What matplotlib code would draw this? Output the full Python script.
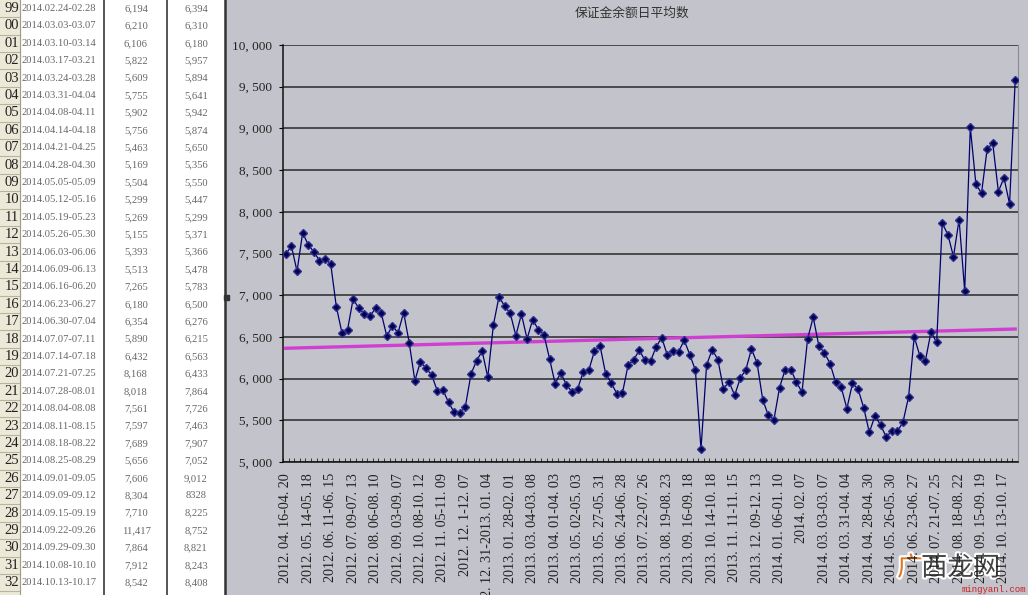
import numpy as np
import matplotlib
matplotlib.use("Agg")
import matplotlib.pyplot as plt
import matplotlib.patheffects as pe
from matplotlib.patches import Rectangle

# weekly values, 2012.04.16 .. 2014.02.21 (before the table starts)
early_values = [
    7496, 7588, 7288, 7748, 7604, 7520, 7416, 7436, 7376, 6864,
    6552, 6584, 6956, 6844, 6776, 6748, 6844, 6788, 6508, 6636,
    6548, 6792, 6428, 5976, 6204, 6124, 6044, 5852, 5864, 5716,
    5596, 5588, 5664, 6052, 6216, 6328, 6016, 6644, 6984, 6868,
    6784, 6516, 6772, 6476, 6708, 6588, 6528, 6240, 5940, 6068,
    5928, 5840, 5876, 6076, 6100, 6328, 6396, 6060, 5948, 5820,
    5828, 6160, 6224, 6340, 6220, 6208, 6380, 6492, 6280, 6328,
    6320, 6460, 6288, 6100, 5156, 6164, 6348, 6228, 5880, 5960,
    5800, 6004, 6108, 6356, 6184, 5748, 5560, 5508, 5892, 6108,
    6108, 5960, 5836, 6476, 6736,
]
# two last weeks on the chart, after the visible table rows
late_values = [8094, 9580]

# spreadsheet rows visible at the left
row_nums = ["99", "00", "01", "02", "03", "04", "05", "06", "07", "08", "09", "10",
            "11", "12", "13", "14", "15", "16", "17", "18", "19", "20", "21", "22",
            "23", "24", "25", "26", "27", "28", "29", "30", "31", "32"]
row_dates = [
    "2014.02.24-02.28", "2014.03.03-03.07", "2014.03.10-03.14", "2014.03.17-03.21",
    "2014.03.24-03.28", "2014.03.31-04.04", "2014.04.08-04.11", "2014.04.14-04.18",
    "2014.04.21-04.25", "2014.04.28-04.30", "2014.05.05-05.09", "2014.05.12-05.16",
    "2014.05.19-05.23", "2014.05.26-05.30", "2014.06.03-06.06", "2014.06.09-06.13",
    "2014.06.16-06.20", "2014.06.23-06.27", "2014.06.30-07.04", "2014.07.07-07.11",
    "2014.07.14-07.18", "2014.07.21-07.25", "2014.07.28-08.01", "2014.08.04-08.08",
    "2014.08.11-08.15", "2014.08.18-08.22", "2014.08.25-08.29", "2014.09.01-09.05",
    "2014.09.09-09.12", "2014.09.15-09.19", "2014.09.22-09.26", "2014.09.29-09.30",
    "2014.10.08-10.10", "2014.10.13-10.17"]
col1 = ["6,194", "6,210", "6,106", "5,822", "5,609", "5,755", "5,902", "5,756",
        "5,463", "5,169", "5,504", "5,299", "5,269", "5,155", "5,393", "5,513",
        "7,265", "6,180", "6,354", "5,890", "6,432", "8,168", "8,018", "7,561",
        "7,597", "7,689", "5,656", "7,606", "8,304", "7,710", "11,417", "7,864",
        "7,912", "8,542"]
col2 = ["6,394", "6,310", "6,180", "5,957", "5,894", "5,641", "5,942", "5,874",
        "5,650", "5,356", "5,550", "5,447", "5,299", "5,371", "5,366", "5,478",
        "5,783", "6,500", "6,276", "6,215", "6,563", "6,433", "7,864", "7,726",
        "7,463", "7,907", "7,052", "9,012", "8328", "8,225", "8,752", "8,821",
        "8,243", "8,408"]

# every 4th category label on the chart
x_labels = [
    "2012. 04. 16-04. 20", "2012. 05. 14-05. 18", "2012. 06. 11-06. 15",
    "2012. 07. 09-07. 13", "2012. 08. 06-08. 10", "2012. 09. 03-09. 07",
    "2012. 10. 08-10. 12", "2012. 11. 05-11. 09", "2012. 12. 1-12. 07",
    "2012. 12. 31-2013. 01. 04", "2013. 01. 28-02. 01", "2013. 03. 04-03. 08",
    "2013. 04. 01-04. 03", "2013. 05. 02-05. 03", "2013. 05. 27-05. 31",
    "2013. 06. 24-06. 28", "2013. 07. 22-07. 26", "2013. 08. 19-08. 23",
    "2013. 09. 16-09. 18", "2013. 10. 14-10. 18", "2013. 11. 11-11. 15",
    "2013. 12. 09-12. 13", "2014. 01. 06-01. 10", "2014. 02. 07",
    "2014. 03. 03-03. 07", "2014. 03. 31-04. 04", "2014. 04. 28-04. 30",
    "2014. 05. 26-05. 30", "2014. 06. 23-06. 27", "2014. 07. 21-07. 25",
    "2014. 08. 18-08. 22", "2014. 09. 15-09. 19", "2014. 10. 13-10. 17"]

title = "保证金余额日平均数"

values = np.array(early_values + [int(s.replace(",", "")) for s in col2] + late_values)
x = np.arange(len(values))

W, H = 1028, 595
gray = "#c3c3cb"
serif = ["Liberation Serif", "DejaVu Serif"]

fig = plt.figure(figsize=(W / 100, H / 100), dpi=100)
fig.patch.set_facecolor(gray)

###############################################################################
# left part: the spreadsheet table, drawn in pixel coordinates
ax_bg = fig.add_axes([0, 0, 1, 1])
ax_bg.set_xlim(0, W)
ax_bg.set_ylim(H, 0)
ax_bg.axis("off")
ax_bg.add_patch(Rectangle((0, 0), 224, H, color="white", zorder=0))
ax_bg.add_patch(Rectangle((0, 0), 20, H, color="#ece9d8", zorder=1))

row_h = 17.4
for i in range(len(row_nums) + 1):
    ax_bg.plot([0, 20], [17.2 + row_h * i] * 2, color="#b8b4a0", lw=0.8, zorder=2)
for i in range(len(row_nums)):
    yc = 8.5 + row_h * i
    ax_bg.text(19, yc, row_nums[i], ha="right", va="center", fontsize=10.5,
               family=serif, color="#222222")
    ax_bg.text(21, yc, row_dates[i], ha="left", va="center", fontsize=7.6,
               family=serif, color="#666666")
    ax_bg.text(136, yc, col1[i], ha="center", va="center", fontsize=7.6,
               family=serif, color="#666666")
    ax_bg.text(196, yc, col2[i], ha="center", va="center", fontsize=7.6,
               family=serif, color="#666666")

ax_bg.plot([20, 20], [0, H], color="#a09c88", lw=0.8)
ax_bg.plot([104, 104], [0, H], color="#555555", lw=1.4)
ax_bg.plot([167, 167], [0, H], color="#555555", lw=1.4)
ax_bg.plot([224.5, 224.5], [0, H], color="#333333", lw=1.8)
ax_bg.add_patch(Rectangle((224, 295), 5, 5, color="#333333", zorder=3))

ax_bg.text(632, 13, title, ha="center", va="center", fontsize=9.2,
           family=["Noto Sans CJK SC", "DejaVu Sans"], color="#333333")

###############################################################################
# right part: the chart
ax = fig.add_axes([283 / W, (H - 462) / H, (1018 - 283) / W, (462 - 45) / H])
ax.set_facecolor(gray)
ax.plot(x, values, color="#000070", lw=0.9, marker="D", markersize=4,
        markerfacecolor="#000050", markeredgecolor="#303090", zorder=3)

# linear trend line, like the Excel one
k, b = np.polyfit(x, values, 1)
ax.plot(x, k * x + b, color="#d040d0", lw=2.4, zorder=2)

ax.set_xlim(-0.5, len(values) - 0.5)
ax.set_ylim(5000, 10000)
yt = np.arange(5000, 10001, 500)
ax.set_yticks(yt)
ax.set_yticklabels([f"{v:,}".replace(",", ", ") for v in yt], family=serif,
                   fontsize=9.5, color="#222222")
ax.yaxis.grid(True, color="#2a2a2a", lw=1.1)
ax.set_axisbelow(True)
ax.tick_params(axis="y", length=3, pad=5)

ax.set_xticks(x[::4])
ax.set_xticklabels(x_labels, rotation=90, family=serif, fontsize=10.2,
                   color="#222222", va="top", ha="center")
ax.set_xticks(np.arange(-0.5, len(values), 1), minor=True)
ax.tick_params(axis="x", which="major", length=0, pad=8)
ax.tick_params(axis="x", which="minor", length=3, direction="in", color="#222222")

for side in ["left", "bottom"]:
    ax.spines[side].set_color("#111111")
    ax.spines[side].set_linewidth(1.1)
ax.spines["top"].set_visible(False)
ax.spines["right"].set_color("#8a8a90")

###############################################################################
# watermark in the bottom right corner
wm = [pe.withStroke(linewidth=3, foreground="white")]
ax_bg.text(897, 568, "广", fontsize=19, color="#e07820", va="center", ha="left",
           family=["Noto Sans CJK SC"], path_effects=wm, zorder=10)
ax_bg.text(921, 568, "西龙网", fontsize=19, color="#444444", va="center", ha="left",
           family=["Noto Sans CJK SC"], path_effects=wm, zorder=10)
ax_bg.text(1026, 589, "mingyanl.com", fontsize=6.5, color="#cc2020", va="center",
           ha="right", family=["Liberation Mono"], zorder=10)
ax_bg.set_zorder(0)
ax.set_zorder(1)

fig.savefig("out.png", dpi=100, facecolor=fig.get_facecolor())
